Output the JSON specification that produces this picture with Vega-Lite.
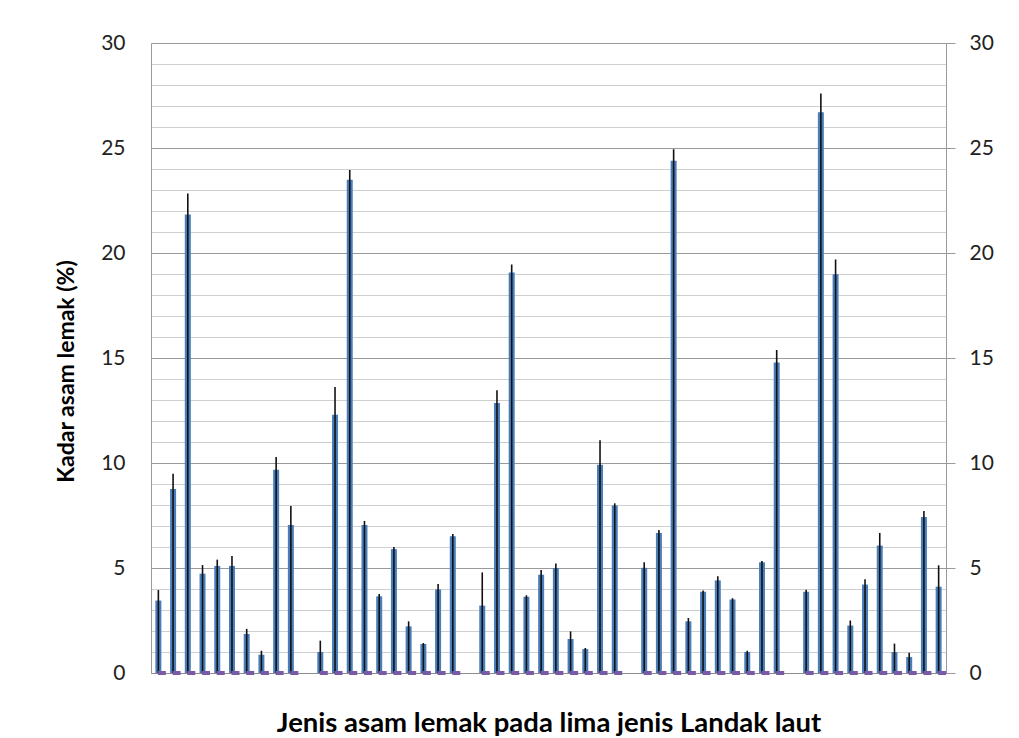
{
  "$schema": "https://vega.github.io/schema/vega-lite/v6.json",
  "width": 795,
  "height": 630,
  "autosize": {"type": "none"},
  "padding": {"left": 151, "top": 43, "right": 73, "bottom": 65},
  "background": "white",
  "config": {
    "view": {"stroke": null},
    "font": "Lato",
    "axis": {"labelFont": "Lato", "titleFont": "Lato"}
  },
  "data": {
    "values": [
      {"id": 1, "kadar": 3.45, "atas": 3.95, "ungu": 0},
      {"id": 2, "kadar": 8.76, "atas": 9.49, "ungu": 0},
      {"id": 3, "kadar": 21.83, "atas": 22.83, "ungu": 0},
      {"id": 4, "kadar": 4.73, "atas": 5.14, "ungu": 0},
      {"id": 5, "kadar": 5.1, "atas": 5.4, "ungu": 0},
      {"id": 6, "kadar": 5.1, "atas": 5.57, "ungu": 0},
      {"id": 7, "kadar": 1.86, "atas": 2.1, "ungu": 0},
      {"id": 8, "kadar": 0.87, "atas": 1.06, "ungu": 0},
      {"id": 9, "kadar": 9.68, "atas": 10.29, "ungu": 0},
      {"id": 10, "kadar": 7.05, "atas": 7.95, "ungu": 0},
      {"id": 12, "kadar": 1.0, "atas": 1.54, "ungu": 0},
      {"id": 13, "kadar": 12.3, "atas": 13.62, "ungu": 0},
      {"id": 14, "kadar": 23.49, "atas": 23.95, "ungu": 0},
      {"id": 15, "kadar": 7.05, "atas": 7.24, "ungu": 0},
      {"id": 16, "kadar": 3.65, "atas": 3.76, "ungu": 0},
      {"id": 17, "kadar": 5.9, "atas": 6.0, "ungu": 0},
      {"id": 18, "kadar": 2.22, "atas": 2.46, "ungu": 0},
      {"id": 19, "kadar": 1.38, "atas": 1.43, "ungu": 0},
      {"id": 20, "kadar": 3.98, "atas": 4.24, "ungu": 0},
      {"id": 21, "kadar": 6.51, "atas": 6.62, "ungu": 0},
      {"id": 23, "kadar": 3.21, "atas": 4.79, "ungu": 0},
      {"id": 24, "kadar": 12.86, "atas": 13.46, "ungu": 0},
      {"id": 25, "kadar": 19.07, "atas": 19.45, "ungu": 0},
      {"id": 26, "kadar": 3.63, "atas": 3.7, "ungu": 0},
      {"id": 27, "kadar": 4.68, "atas": 4.9, "ungu": 0},
      {"id": 28, "kadar": 5.0, "atas": 5.21, "ungu": 0},
      {"id": 29, "kadar": 1.62, "atas": 1.98, "ungu": 0},
      {"id": 30, "kadar": 1.14, "atas": 1.19, "ungu": 0},
      {"id": 31, "kadar": 9.92, "atas": 11.08, "ungu": 0},
      {"id": 32, "kadar": 7.98, "atas": 8.08, "ungu": 0},
      {"id": 34, "kadar": 5.01, "atas": 5.27, "ungu": 0},
      {"id": 35, "kadar": 6.67, "atas": 6.81, "ungu": 0},
      {"id": 36, "kadar": 24.39, "atas": 24.94, "ungu": 0},
      {"id": 37, "kadar": 2.46, "atas": 2.62, "ungu": 0},
      {"id": 38, "kadar": 3.87, "atas": 3.93, "ungu": 0},
      {"id": 39, "kadar": 4.41, "atas": 4.61, "ungu": 0},
      {"id": 40, "kadar": 3.5, "atas": 3.56, "ungu": 0},
      {"id": 41, "kadar": 1.0, "atas": 1.06, "ungu": 0},
      {"id": 42, "kadar": 5.27, "atas": 5.33, "ungu": 0},
      {"id": 43, "kadar": 14.78, "atas": 15.38, "ungu": 0},
      {"id": 45, "kadar": 3.87, "atas": 3.97, "ungu": 0},
      {"id": 46, "kadar": 26.7, "atas": 27.6, "ungu": 0},
      {"id": 47, "kadar": 18.99, "atas": 19.69, "ungu": 0},
      {"id": 48, "kadar": 2.26, "atas": 2.5, "ungu": 0},
      {"id": 49, "kadar": 4.21, "atas": 4.47, "ungu": 0},
      {"id": 50, "kadar": 6.07, "atas": 6.67, "ungu": 0},
      {"id": 51, "kadar": 1.0, "atas": 1.4, "ungu": 0},
      {"id": 52, "kadar": 0.76, "atas": 0.96, "ungu": 0},
      {"id": 53, "kadar": 7.43, "atas": 7.71, "ungu": 0},
      {"id": 54, "kadar": 4.11, "atas": 5.13, "ungu": 0}
    ]
  },
  "encoding": {
    "x": {
      "field": "id",
      "type": "ordinal",
      "scale": {
        "domain": [1,2,3,4,5,6,7,8,9,10,11,12,13,14,15,16,17,18,19,20,21,22,23,24,25,26,27,28,29,30,31,32,33,34,35,36,37,38,39,40,41,42,43,44,45,46,47,48,49,50,51,52,53,54],
        "paddingInner": 0,
        "paddingOuter": 0
      },
      "axis": {
        "title": "Jenis asam lemak pada lima jenis Landak laut",
        "labels": false,
        "ticks": false,
        "domainColor": "#8c8c8c",
        "domainWidth": 1.2,
        "titleFontSize": 27.5,
        "titleFontWeight": "bold",
        "titleColor": "#000000",
        "titlePadding": 36
      }
    }
  },
  "layer": [
    {
      "mark": {"type": "bar", "width": 6, "color": "#4a7ebb"},
      "encoding": {
        "y": {
          "field": "kadar",
          "type": "quantitative",
          "scale": {"domain": [0, 30], "nice": false},
          "axis": {
            "orient": "left",
            "title": "Kadar asam lemak (%)",
            "values": [0,1,2,3,4,5,6,7,8,9,10,11,12,13,14,15,16,17,18,19,20,21,22,23,24,25,26,27,28,29,30],
            "labelExpr": "datum.value % 5 === 0 ? datum.label : ''",
            "grid": true,
            "gridColor": {"condition": {"test": "datum.value % 5 === 0", "value": "#9a9a9a"}, "value": "#cfcfcf"},
            "gridWidth": 1.2,
            "ticks": false,
            "domainColor": "#9a9a9a",
            "labelFontSize": 21,
            "labelColor": "#222222",
            "labelPadding": 26,
            "titleFontSize": 23,
            "titleFontWeight": "bold",
            "titleColor": "#000000",
            "titlePadding": 22,
            "titleY": 328
          }
        }
      }
    },
    {
      "mark": {"type": "rule", "color": "#111111", "strokeWidth": 1.6},
      "encoding": {
        "y": {"field": "atas", "type": "quantitative", "axis": null},
        "y2": {"datum": 0}
      }
    },
    {
      "mark": {"type": "tick", "size": 8, "thickness": 4, "xOffset": 3.5, "color": "#7a5aa6", "opacity": 1},
      "encoding": {
        "y": {
          "field": "ungu",
          "type": "quantitative",
          "axis": {
            "orient": "right",
            "title": null,
            "values": [0,5,10,15,20,25,30],
            "grid": false,
            "tickSize": 9,
            "tickColor": "#9a9a9a",
            "domainColor": "#9a9a9a",
            "labelFontSize": 21,
            "labelColor": "#222222",
            "labelPadding": 14
          }
        }
      }
    }
  ],
  "resolve": {"axis": {"y": "independent"}}
}
